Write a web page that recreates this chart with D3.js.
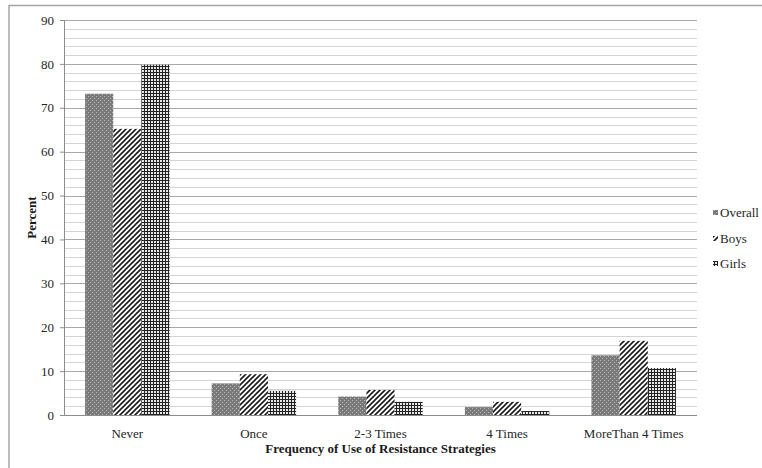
<!DOCTYPE html>
<html><head><meta charset="utf-8">
<script src="https://cdn.jsdelivr.net/npm/d3@7"></script>
<style>body{margin:0;background:#fff;}svg{display:block;font-family:"Liberation Serif","Times New Roman",serif;}svg text{font-family:"Liberation Serif","Times New Roman",serif;}</style>
</head><body>
<svg id="c" width="762" height="468"></svg>
<script>
const categories = ["Never","Once","2-3 Times","4 Times","MoreThan 4 Times"];
const seriesNames = ["Overall","Boys","Girls"];
const overall = [73.2, 7.2, 4.2, 1.8, 13.6];
const boys = [65.2, 9.3, 5.7, 3.0, 16.9];
const girls = [79.8, 5.5, 3.0, 0.9, 10.7];
const yTicks = [0,10,20,30,40,50,60,70,80,90];
const seriesValues = [overall, boys, girls];

const FONT = '"Liberation Serif","Times New Roman",serif';
const svg = d3.select("#c");
const margin = {left:64, right:65, top:20, bottom:53};
const W = 762, H = 468;
const x0 = margin.left, x1 = W - margin.right, yTop = margin.top, yBot = H - margin.bottom;

const defs = svg.append("defs");
const p1 = defs.append("pattern").attr("id","pOverall").attr("patternUnits","userSpaceOnUse").attr("width",4).attr("height",4);
p1.append("rect").attr("width",4).attr("height",4).attr("fill","#7a7a7a");
p1.append("rect").attr("x",0).attr("y",0).attr("width",1).attr("height",1).attr("fill","#b8b8b8");
p1.append("rect").attr("x",2).attr("y",2).attr("width",1).attr("height",1).attr("fill","#b8b8b8");
const p2 = defs.append("pattern").attr("id","pBoys").attr("patternUnits","userSpaceOnUse").attr("width",5).attr("height",5);
p2.append("rect").attr("width",5).attr("height",5).attr("fill","#fff");
p2.append("path").attr("d","M-1,1 L1,-1 M0,5 L5,0 M4,6 L6,4").attr("stroke","#1a1a1a").attr("stroke-width",1.6);
const p3 = defs.append("pattern").attr("id","pGirls").attr("patternUnits","userSpaceOnUse").attr("width",3).attr("height",3);
p3.append("rect").attr("width",3).attr("height",3).attr("fill","#e8e8e8");
p3.append("rect").attr("x",0).attr("y",0).attr("width",3).attr("height",1).attr("fill","#222");
p3.append("rect").attr("x",0).attr("y",0).attr("width",1).attr("height",3).attr("fill","#222");
const fills = ["url(#pOverall)","url(#pBoys)","url(#pGirls)"];

svg.append("line").attr("x1",9).attr("x2",762).attr("y1",5.5).attr("y2",5.5).attr("stroke","#a6a6a6").attr("stroke-width",1.5);
svg.append("line").attr("x1",9).attr("x2",9).attr("y1",5).attr("y2",468).attr("stroke","#a6a6a6").attr("stroke-width",1.5);

const y = d3.scaleLinear().domain([0,90]).range([yBot,yTop]);
const x = d3.scaleBand().domain(categories).range([x0,x1]).paddingInner(0.333).paddingOuter(0.1665);
const xs = d3.scaleBand().domain(seriesNames).range([0,x.bandwidth()]);

const minor = d3.range(2,91,2).filter(v=>v%10!==0);
svg.append("g").selectAll("line").data(minor).join("line")
  .attr("x1",x0).attr("x2",x1).attr("y1",d=>Math.round(y(d))+0.5).attr("y2",d=>Math.round(y(d))+0.5)
  .attr("stroke","#d4d4d4").attr("stroke-width",1);
svg.append("g").selectAll("line").data(yTicks.filter(v=>v>0)).join("line")
  .attr("x1",x0).attr("x2",x1).attr("y1",d=>Math.round(y(d))+0.5).attr("y2",d=>Math.round(y(d))+0.5)
  .attr("stroke","#a8a8a8").attr("stroke-width",1);

const g = svg.append("g");
categories.forEach((c,i)=>{
  seriesNames.forEach((s,j)=>{
    const v = seriesValues[j][i];
    g.append("rect").attr("x",x(c)+xs(s)).attr("y",y(v)).attr("width",xs.bandwidth()).attr("height",y(0)-y(v))
      .attr("fill",fills[j]);
  });
});

const yAxis = svg.append("g").attr("transform",`translate(${x0},0)`)
  .call(d3.axisLeft(y).tickValues(yTicks).tickSize(4).tickPadding(6))
  .attr("font-family",FONT).attr("font-size",13);
yAxis.select(".domain").attr("stroke","#8c8c8c");
yAxis.selectAll(".tick line").attr("stroke","#8c8c8c");
yAxis.selectAll(".tick text").attr("fill","#262626");

const xAxis = svg.append("g").attr("transform",`translate(0,${yBot})`)
  .call(d3.axisBottom(x).tickSize(0).tickPadding(14))
  .attr("font-family",FONT).attr("font-size",13);
xAxis.select(".domain").attr("stroke","#8c8c8c").attr("d",`M${x0},0.5H${x1}`);
xAxis.selectAll(".tick text").attr("fill","#262626");

svg.append("text").attr("x",(x0+x1)/2).attr("y",453).attr("text-anchor","middle").attr("font-family",FONT)
  .attr("font-weight","bold").attr("font-size",13).attr("fill","#1a1a1a").text("Frequency of Use of Resistance Strategies");
svg.append("text").attr("transform",`translate(36,${(yTop+yBot)/2}) rotate(-90)`).attr("text-anchor","middle").attr("font-family",FONT)
  .attr("font-weight","bold").attr("font-size",13).attr("fill","#1a1a1a").text("Percent");

const legY = [213, 239, 264];
const lg = svg.append("g").attr("font-family",FONT);
seriesNames.forEach((s,j)=>{
  lg.append("rect").attr("x",713).attr("y",legY[j]-3).attr("width",5).attr("height",5).attr("fill",fills[j]);
  lg.append("text").attr("x",720).attr("y",legY[j]+4).attr("font-size",13).attr("fill","#262626").text(s);
});
</script>
</body></html>
